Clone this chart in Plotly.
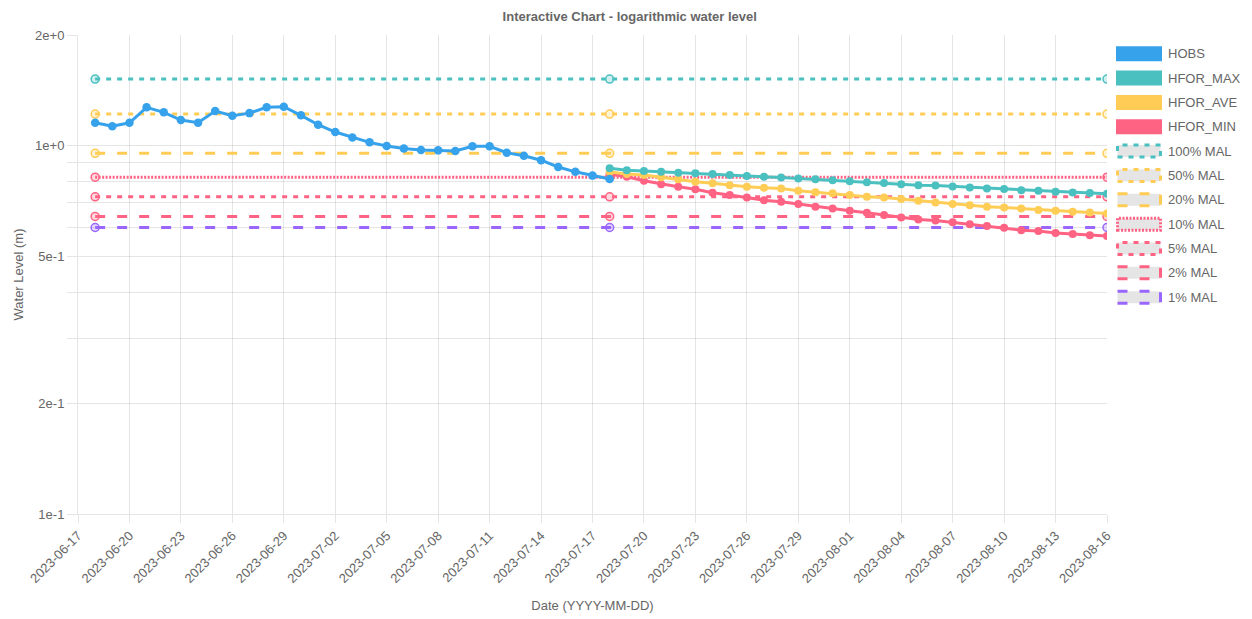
import pandas as pd
import plotly.graph_objects as go

# ---- data -------------------------------------------------------------
obs_dates = pd.date_range("2023-06-18", "2023-07-18", freq="D")
hobs = [1.155, 1.13, 1.155, 1.272, 1.233, 1.175, 1.155, 1.243, 1.207, 1.227,
        1.272, 1.277, 1.21, 1.141, 1.090, 1.054, 1.022, 0.999, 0.984, 0.974,
        0.972, 0.968, 0.997, 0.997, 0.958, 0.94, 0.914, 0.876, 0.85, 0.83,
        0.813]

for_dates = pd.date_range("2023-07-18", "2023-08-16", freq="D")
hfor_max = [0.869, 0.859, 0.855, 0.850, 0.845, 0.842, 0.838, 0.833, 0.828, 0.824,
            0.820, 0.815, 0.811, 0.806, 0.801, 0.796, 0.792, 0.787, 0.782, 0.780,
            0.776, 0.771, 0.766, 0.763, 0.758, 0.755, 0.750, 0.747, 0.744, 0.741]
hfor_ave = [0.849, 0.838, 0.833, 0.821, 0.811, 0.799, 0.791, 0.782, 0.774, 0.769,
            0.766, 0.755, 0.748, 0.743, 0.735, 0.727, 0.724, 0.717, 0.709, 0.702,
            0.695, 0.690, 0.683, 0.680, 0.676, 0.669, 0.666, 0.662, 0.659, 0.655]
hfor_min = [0.838, 0.824, 0.804, 0.787, 0.774, 0.762, 0.746, 0.735, 0.724, 0.712,
            0.705, 0.695, 0.683, 0.676, 0.666, 0.658, 0.649, 0.639, 0.631, 0.627,
            0.620, 0.612, 0.606, 0.599, 0.590, 0.587, 0.580, 0.576, 0.572, 0.569]

mal_dates = ["2023-06-18", "2023-07-18", "2023-08-16"]
mal_names = ["100% MAL", "50% MAL", "20% MAL", "10% MAL", "5% MAL", "2% MAL", "1% MAL"]
mal_levels = [1.518, 1.22, 0.954, 0.822, 0.727, 0.643, 0.600]

y_tickvals = [0.1, 0.2, 0.3, 0.4, 0.5, 0.6, 0.7, 0.8, 0.9, 1, 2]
y_ticktext = ["1e-1", "2e-1", "", "", "5e-1", "", "", "", "", "1e+0", "2e+0"]
x_tickvals = pd.date_range("2023-06-17", "2023-08-16", freq="3D")

# ---- styling ----------------------------------------------------------
BLUE, TEAL, YELLOW, PINK, PURPLE = "#36A2EB", "#4BC0C0", "#FFCD56", "#FF6384", "#9966FF"
SHORT, LONG, DOT = "5px,6px", "10px,12px", "2px,1.5px"
mal_colors = [TEAL, YELLOW, YELLOW, PINK, PINK, PINK, PURPLE]
mal_dashes = [SHORT, SHORT, LONG, DOT, SHORT, LONG, LONG]
GRID = "rgba(0,0,0,0.1)"
TEXT = "#666666"
FONT = "Liberation Sans, Arial, Helvetica, sans-serif"
FS = 13

W, H = 1252, 619
L, R, T, B = 78, 145, 35, 105
PW, PH = W - L - R, H - T - B


def rgba(hex_color, a):
    h = hex_color.lstrip("#")
    r, g, b = int(h[0:2], 16), int(h[2:4], 16), int(h[4:6], 16)
    return f"rgba({r},{g},{b},{a})"


def paper_x(px):
    return (px - L) / PW


def paper_y(py):
    return (H - B - py) / PH


fig = go.Figure()

# threshold lines (drawn first so the series sit on top)
for name, level, color, dash in zip(mal_names, mal_levels, mal_colors, mal_dashes):
    fig.add_trace(go.Scatter(
        x=mal_dates, y=[level] * len(mal_dates), name=name, mode="lines+markers",
        line=dict(color=color, width=3, dash=dash),
        marker=dict(size=8, color=rgba(color, 0.25), line=dict(color=color, width=1.5)),
        showlegend=False,
    ))

for name, vals, color in [("HFOR_MIN", hfor_min, PINK),
                          ("HFOR_AVE", hfor_ave, YELLOW),
                          ("HFOR_MAX", hfor_max, TEAL)]:
    fig.add_trace(go.Scatter(
        x=for_dates, y=vals, name=name, mode="lines+markers",
        line=dict(color=color, width=3),
        marker=dict(size=8, color=color),
        showlegend=False,
    ))

fig.add_trace(go.Scatter(
    x=obs_dates, y=hobs, name="HOBS", mode="lines+markers",
    line=dict(color=BLUE, width=3),
    marker=dict(size=8.5, color=BLUE),
    showlegend=False,
))

# ---- box-style legend on the right --------------------------------------
legend_items = [("HOBS", BLUE, None), ("HFOR_MAX", TEAL, None),
                ("HFOR_AVE", YELLOW, None), ("HFOR_MIN", PINK, None)]
legend_items += list(zip(mal_names, mal_colors, mal_dashes))

shapes, annotations = [], []
for i, (label, color, dash) in enumerate(legend_items):
    cy = 53.7 + 24.35 * i
    if dash is None:
        shapes.append(dict(type="rect", xref="paper", yref="paper",
                           x0=paper_x(1116), x1=paper_x(1162),
                           y0=paper_y(cy + 7.5), y1=paper_y(cy - 7.5),
                           fillcolor=color, line=dict(width=0)))
    else:
        shapes.append(dict(type="rect", xref="paper", yref="paper",
                           x0=paper_x(1117.5), x1=paper_x(1160.5),
                           y0=paper_y(cy + 6), y1=paper_y(cy - 6),
                           fillcolor="rgba(0,0,0,0.1)",
                           line=dict(color=color, width=3, dash=dash)))
    annotations.append(dict(text=label, xref="paper", yref="paper",
                            x=paper_x(1166), y=paper_y(cy), xanchor="left",
                            yanchor="middle", showarrow=False,
                            font=dict(family=FONT, size=FS, color=TEXT)))

fig.update_layout(
    width=W, height=H,
    margin=dict(l=L, r=R, t=T, b=B),
    paper_bgcolor="white", plot_bgcolor="white",
    font=dict(family=FONT, size=FS, color=TEXT),
    title=dict(text="<b>Interactive Chart - logarithmic water level</b>",
               x=0.503, xref="container", xanchor="center",
               y=1 - 16 / H, yref="container", yanchor="middle",
               font=dict(family=FONT, size=FS, color=TEXT)),
    shapes=shapes, annotations=annotations,
    showlegend=False,
    hovermode="closest",
)

fig.update_xaxes(
    type="date", range=["2023-06-17", "2023-08-16"],
    tickvals=x_tickvals, tickformat="%Y-%m-%d", tickangle=-45,
    showgrid=True, gridcolor=GRID, gridwidth=1,
    ticks="outside", ticklen=8, tickcolor=GRID,
    showline=True, linecolor=GRID, linewidth=1,
    zeroline=False,
    tickfont=dict(family=FONT, size=FS, color=TEXT),
    title=dict(text="Date (YYYY-MM-DD)", standoff=16,
               font=dict(family=FONT, size=FS, color=TEXT)),
    automargin=False,
)

fig.update_yaxes(
    type="log", range=[-1, 0.30103],
    tickvals=y_tickvals, ticktext=y_ticktext,
    showgrid=True, gridcolor=GRID, gridwidth=1,
    ticks="outside", ticklen=10, tickcolor=GRID,
    showline=True, linecolor=GRID, linewidth=1,
    zeroline=False,
    tickfont=dict(family=FONT, size=FS, color=TEXT),
    title=dict(text="Water Level (m)", standoff=8,
               font=dict(family=FONT, size=FS, color=TEXT)),
    automargin=False,
)

fig.write_html("out.html")
